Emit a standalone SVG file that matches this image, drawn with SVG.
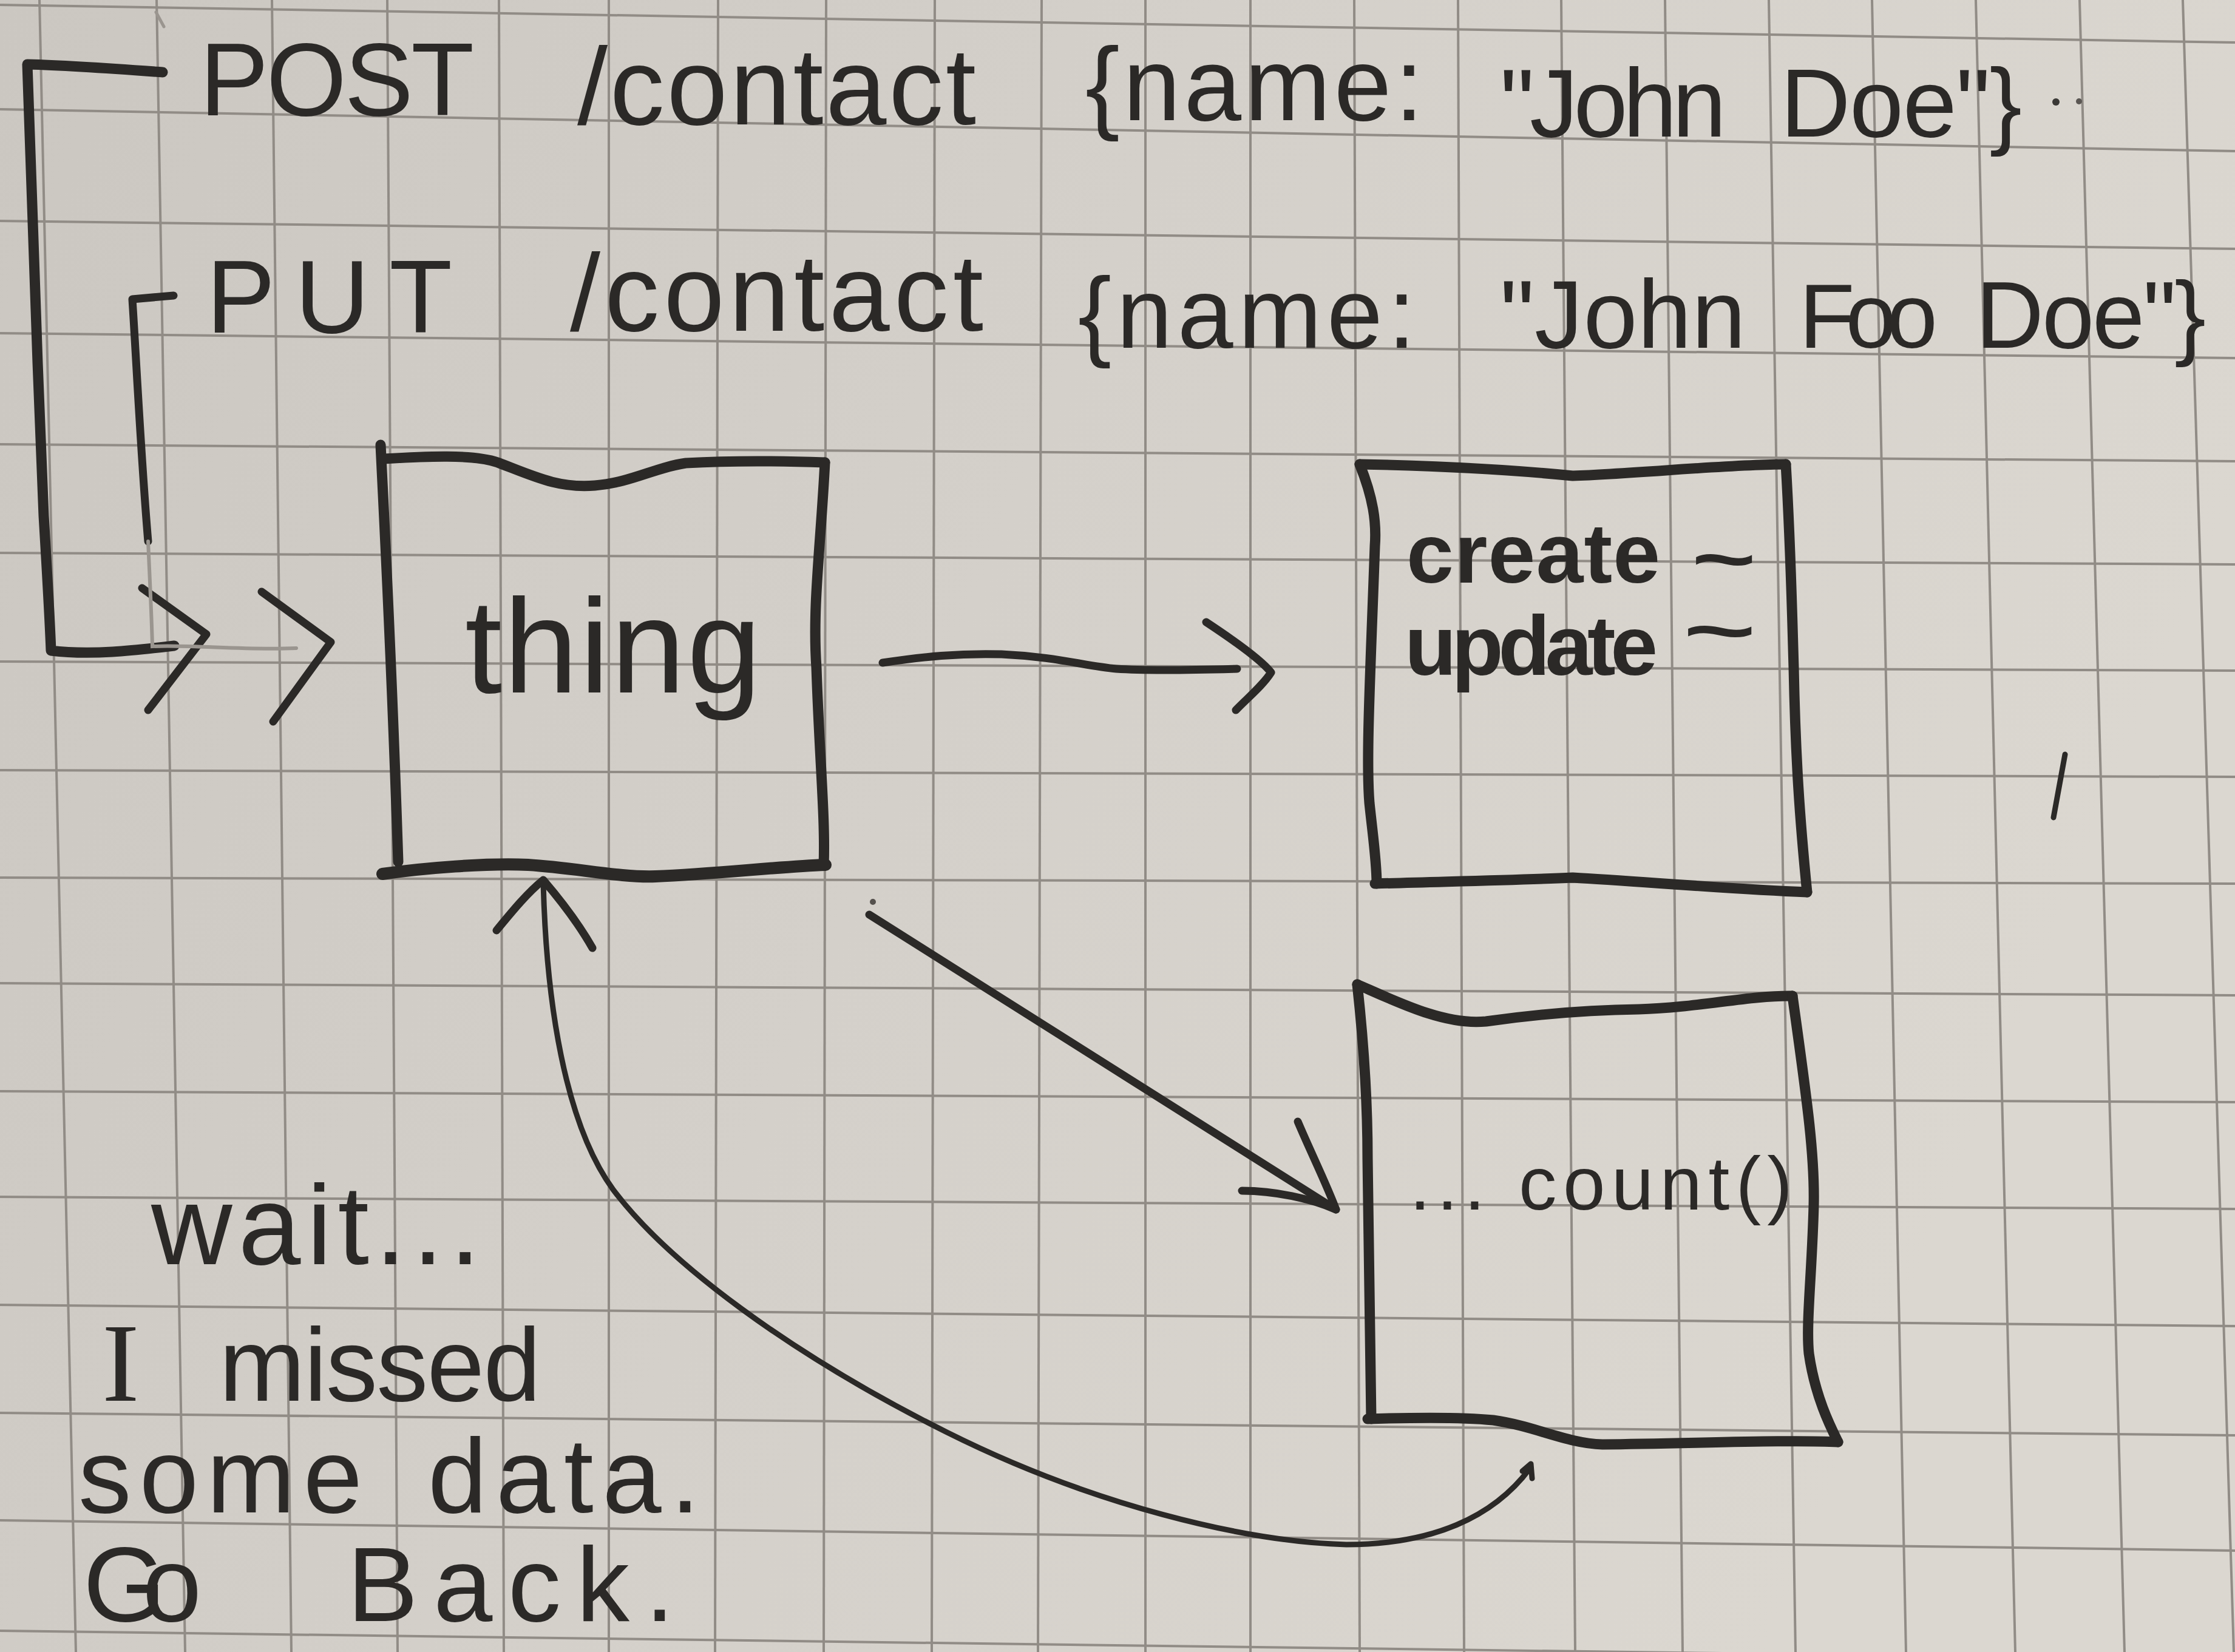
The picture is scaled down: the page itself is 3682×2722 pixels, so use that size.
<svg xmlns="http://www.w3.org/2000/svg" width="3682" height="2722" viewBox="0 0 3682 2722">
<defs>
<linearGradient id="paperGrad" x1="0" y1="0" x2="1" y2="0.3">
<stop offset="0" stop-color="#cbc7c1"/>
<stop offset="0.5" stop-color="#d4d0ca"/>
<stop offset="1" stop-color="#dbd7d0"/>
</linearGradient>
<style>
.grid { stroke:#918c86; stroke-width:4; fill:none; }
.ink { fill:none; stroke:#2b2927; stroke-linecap:round; stroke-linejoin:round; }
.box { stroke-width:17; }
.arr { stroke-width:13; }
.thin { stroke-width:9; }
.faint { fill:none; stroke:#9a958f; stroke-width:6; stroke-linecap:round; }
.txt { font-family:"Liberation Sans", Arial, sans-serif; fill:#2b2927; }
.serif { font-family:"Liberation Serif", "Times New Roman", serif; }
.bold { font-weight:bold; }
</style>
</defs>

<g id="paper">
<rect x="0" y="0" width="3682" height="2722" fill="url(#paperGrad)"/>
<g class="grid">
<line x1="65" y1="0" x2="125" y2="2722"/>
<line x1="258" y1="0" x2="305" y2="2722"/>
<line x1="448" y1="0" x2="480" y2="2722"/>
<line x1="638" y1="0" x2="655" y2="2722"/>
<line x1="822" y1="0" x2="830" y2="2722"/>
<line x1="1003" y1="0" x2="1003" y2="2722"/>
<line x1="1183" y1="0" x2="1178" y2="2722"/>
<line x1="1361" y1="0" x2="1357" y2="2722"/>
<line x1="1540" y1="0" x2="1535" y2="2722"/>
<line x1="1716" y1="0" x2="1710" y2="2722"/>
<line x1="1887" y1="0" x2="1887" y2="2722"/>
<line x1="2060" y1="0" x2="2060" y2="2722"/>
<line x1="2231" y1="0" x2="2240" y2="2722"/>
<line x1="2402" y1="0" x2="2412" y2="2722"/>
<line x1="2572" y1="0" x2="2595" y2="2722"/>
<line x1="2743" y1="0" x2="2772" y2="2722"/>
<line x1="2914" y1="0" x2="2958" y2="2722"/>
<line x1="3084" y1="0" x2="3140" y2="2722"/>
<line x1="3255" y1="0" x2="3320" y2="2722"/>
<line x1="3426" y1="0" x2="3500" y2="2722"/>
<line x1="3596" y1="0" x2="3680" y2="2722"/>
<line x1="0" y1="8" x2="3682" y2="70"/>
<line x1="0" y1="180" x2="3682" y2="249"/>
<line x1="0" y1="364" x2="3682" y2="410"/>
<line x1="0" y1="549" x2="3682" y2="590"/>
<line x1="0" y1="732" x2="3682" y2="760"/>
<line x1="0" y1="911" x2="3682" y2="930"/>
<line x1="0" y1="1090" x2="3682" y2="1105"/>
<line x1="0" y1="1269" x2="3682" y2="1280"/>
<line x1="0" y1="1446" x2="3682" y2="1456"/>
<line x1="0" y1="1620" x2="3682" y2="1640"/>
<line x1="0" y1="1798" x2="3682" y2="1816"/>
<line x1="0" y1="1972" x2="3682" y2="1992"/>
<line x1="0" y1="2150" x2="3682" y2="2185"/>
<line x1="0" y1="2328" x2="3682" y2="2365"/>
<line x1="0" y1="2505" x2="3682" y2="2555"/>
<line x1="0" y1="2687" x2="3682" y2="2735"/>
</g>
</g>

<g id="label-post">
<text class="txt" y="190">
<tspan x="329" font-size="170" textLength="452" lengthAdjust="spacing">POST</tspan>
<tspan x="951" y="205" font-size="180" textLength="657" lengthAdjust="spacing">/contact</tspan>
<tspan x="1788" y="198" font-size="170" textLength="557" lengthAdjust="spacing">{name:</tspan>
<tspan x="2471" y="225" font-size="160" textLength="373" lengthAdjust="spacing">"John</tspan>
<tspan x="2933" y="225" font-size="160" textLength="398" lengthAdjust="spacing">Doe"}</tspan>
</text>
<circle cx="3387" cy="168" r="6" fill="#3a3835"/>
<circle cx="3425" cy="167" r="5" fill="#5a5652"/>
</g>

<g id="label-put">
<text class="txt" y="548">
<tspan x="340" font-size="170" textLength="405" lengthAdjust="spacing">PUT</tspan>
<tspan x="939" y="545" font-size="180" textLength="681" lengthAdjust="spacing">/contact</tspan>
<tspan x="1776" y="573" font-size="165" textLength="556" lengthAdjust="spacing">{name:</tspan>
<tspan x="2471" y="573" font-size="160" textLength="405" lengthAdjust="spacing">"John</tspan>
<tspan x="2964" y="573" font-size="150" textLength="228" lengthAdjust="spacing">Foo</tspan>
<tspan x="3255" y="573" font-size="155" textLength="379" lengthAdjust="spacing">Doe"}</tspan>
</text>
</g>

<g id="node-thing">
<path class="ink box" d="M 627 733 C 635 900, 645 1080, 656 1420"/>
<path class="ink box" d="M 632 756 C 700 752, 780 748, 820 762 C 880 785, 920 805, 980 800 C 1040 795, 1080 770, 1130 763 C 1220 758, 1300 760, 1359 762"/>
<path class="ink box" d="M 1359 762 C 1352 900, 1338 1000, 1345 1100 C 1350 1250, 1360 1350, 1357 1425"/>
<path class="ink box" style="stroke-width:20" d="M 630 1440 C 700 1430, 800 1422, 870 1425 C 950 1430, 1020 1446, 1080 1444 C 1180 1440, 1280 1428, 1360 1425"/>
<text class="txt" x="766" y="1141" font-size="220" textLength="488" lengthAdjust="spacing">thing</text>
</g>

<g id="node-handlers">
<path class="ink box" d="M 2240 765 C 2400 768, 2500 775, 2591 784 C 2700 780, 2850 765, 2942 765"/>
<path class="ink box" d="M 2240 765 C 2262 820, 2268 860, 2265 900 C 2258 1100, 2250 1250, 2256 1323 C 2262 1380, 2268 1420, 2268 1456"/>
<path class="ink box" d="M 2942 765 C 2950 900, 2952 1000, 2955 1100 C 2958 1250, 2965 1350, 2977 1470"/>
<path class="ink box" d="M 2265 1456 C 2400 1452, 2500 1450, 2591 1446 C 2700 1452, 2850 1465, 2977 1470"/>
<text class="txt bold" font-size="140"><tspan x="2317" y="960" textLength="418" lengthAdjust="spacing">create</tspan><tspan x="2787" y="962" font-size="120" textLength="106" lengthAdjust="spacingAndGlyphs">~</tspan></text>
<text class="txt bold" font-size="140"><tspan x="2314" y="1112" textLength="417" lengthAdjust="spacing">update</tspan><tspan x="2773" y="1080" font-size="120" textLength="120" lengthAdjust="spacingAndGlyphs">~</tspan></text>
</g>

<g id="node-count">
<path class="ink box" d="M 2236 1622 C 2300 1650, 2380 1690, 2448 1683 C 2540 1670, 2620 1664, 2700 1663 C 2800 1660, 2880 1640, 2953 1641"/>
<path class="ink box" d="M 2236 1622 C 2250 1750, 2253 1850, 2253 1909 C 2255 2100, 2258 2250, 2259 2338"/>
<path class="ink box" d="M 2953 1641 C 2975 1800, 2990 1900, 2988 1986 C 2985 2100, 2975 2180, 2980 2230 C 2990 2300, 3015 2350, 3028 2376"/>
<path class="ink box" d="M 2253 2338 C 2350 2335, 2420 2336, 2460 2340 C 2530 2350, 2580 2378, 2640 2380 C 2800 2378, 2950 2372, 3028 2376"/>
<text class="txt" x="2322" y="1993" font-size="125" textLength="631" lengthAdjust="spacing">... count()</text>
</g>

<g id="note">
<text class="txt" x="249" y="2083" font-size="185" textLength="543" lengthAdjust="spacing">wait...</text>
<text class="txt" y="2308" font-size="170"><tspan x="168" class="serif" font-size="185">I</tspan> <tspan x="361" textLength="530" lengthAdjust="spacing">missed</tspan></text>
<text class="txt" y="2492" font-size="175"><tspan x="129" textLength="468" lengthAdjust="spacing">some</tspan> <tspan x="705" textLength="448" lengthAdjust="spacing">data.</tspan></text>
<text class="txt" y="2671" font-size="175"><tspan x="137" textLength="195" lengthAdjust="spacing">Go</tspan> <tspan x="572" textLength="539" lengthAdjust="spacing">Back.</tspan></text>
</g>

<g id="connectors">
<path class="ink box" d="M 268 119 C 200 114, 120 108, 45 106 C 50 300, 62 600, 72 850 C 78 950, 82 1020, 84 1072 C 150 1080, 220 1072, 287 1064"/>
<path class="ink arr" d="M 234 969 L 340 1045 L 244 1170"/>
<path class="ink arr" d="M 286 487 L 218 493 C 225 600, 232 750, 244 892"/>
<path class="faint" d="M 244 892 C 247 960, 250 1020, 251 1065 C 320 1062, 400 1072, 488 1068"/>
<path class="ink arr" d="M 431 975 L 545 1058 L 450 1189"/>
<path class="ink arr" d="M 1454 1092 C 1520 1082, 1580 1076, 1650 1078 C 1740 1082, 1790 1098, 1839 1102 C 1900 1106, 2000 1103, 2038 1102"/>
<path class="ink arr" d="M 1987 1025 C 2040 1060, 2080 1090, 2094 1108 C 2080 1130, 2055 1150, 2036 1170"/>
<path class="ink arr" d="M 1432 1507 C 1700 1675, 1950 1835, 2201 1993"/>
<path class="ink arr" d="M 2138 1848 C 2160 1900, 2185 1950, 2201 1993 C 2160 1975, 2100 1962, 2046 1962"/>
<path class="ink thin" d="M 2520 2420 C 2460 2500, 2360 2545, 2218 2545 C 2050 2540, 1800 2480, 1560 2360 C 1300 2230, 1100 2080, 1010 1960 C 930 1850, 900 1650, 895 1455"/>
<path class="ink thin" d="M 2508 2424 L 2522 2412 L 2524 2436"/>
<path class="ink arr" d="M 818 1533 C 845 1500, 870 1470, 895 1450 C 925 1485, 955 1525, 976 1562"/>
</g>

<g id="marks">
<path class="ink" style="stroke-width:9" d="M 3402 1243 L 3383 1347"/>
<path class="faint" style="stroke-width:5" d="M 257 20 L 270 44"/>
<circle cx="1438" cy="1486" r="5" fill="#55514d"/>
</g>
</svg>
